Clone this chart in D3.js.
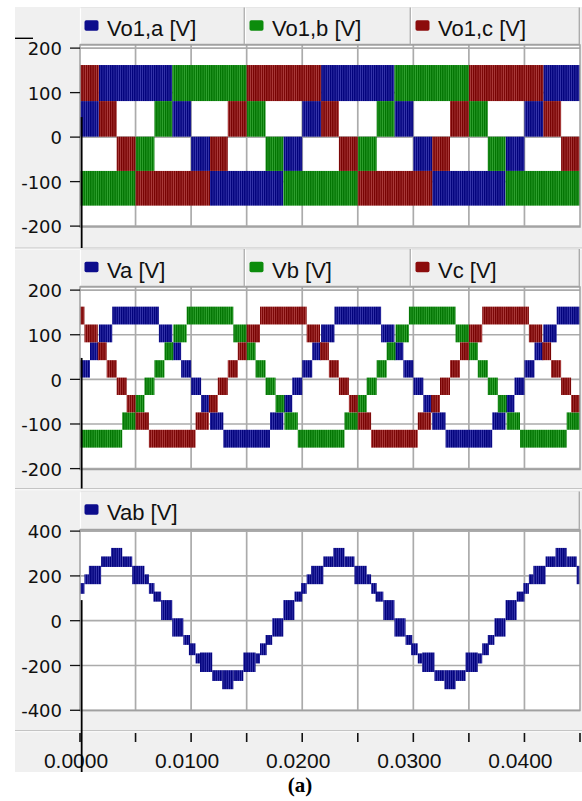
<!DOCTYPE html>
<html><head><meta charset="utf-8">
<script src="https://cdn.jsdelivr.net/npm/d3@7"></script>
<style>html,body{margin:0;padding:0;background:#fff;}svg{display:block}</style>
</head><body><svg id="c" width="582" height="801"></svg>
<script>
// ---------------- data ----------------
const timeTicks = [0,0.005,0.01,0.015,0.02,0.025,0.03,0.035,0.04,0.045];
const timeLabels = [0,0.01,0.02,0.03,0.04];
const phaseTicks = [-200,-100,0,100,200];
const lineTicks = [-400,-200,0,200,400];
const legendTop = ["Vo1,a [V]","Vo1,b [V]","Vo1,c [V]"];
const legendMid = ["Va [V]","Vb [V]","Vc [V]"];
const legendBot = ["Vab [V]"];
// each segment: [t start, t end, lower level, upper level] (PWM band)
const vo1a = [[0,0.0017,1,81],[0.0017,0.0083,81,162],[0.0083,0.0100,1,81],[0.0100,0.0117,-76,1],[0.0117,0.0183,-154,-76],[0.0183,0.0200,-76,1],[0.0200,0.0217,1,81],[0.0217,0.0283,81,162],[0.0283,0.0300,1,81],[0.0300,0.0317,-76,1],[0.0317,0.0383,-154,-76],[0.0383,0.0400,-76,1],[0.0400,0.0417,1,81],[0.0417,0.0450,81,162]];
const vo1b = [[0,0.0050,-154,-76],[0.0050,0.0067,-76,1],[0.0067,0.0083,1,81],[0.0083,0.0150,81,162],[0.0150,0.0167,1,81],[0.0167,0.0183,-76,1],[0.0183,0.0250,-154,-76],[0.0250,0.0267,-76,1],[0.0267,0.0283,1,81],[0.0283,0.0350,81,162],[0.0350,0.0367,1,81],[0.0367,0.0383,-76,1],[0.0383,0.0450,-154,-76]];
const vo1c = [[0,0.0017,81,162],[0.0017,0.0033,1,81],[0.0033,0.0050,-76,1],[0.0050,0.0117,-154,-76],[0.0117,0.0133,-76,1],[0.0133,0.0150,1,81],[0.0150,0.0217,81,162],[0.0217,0.0233,1,81],[0.0233,0.0250,-76,1],[0.0250,0.0317,-154,-76],[0.0317,0.0333,-76,1],[0.0333,0.0350,1,81],[0.0350,0.0417,81,162],[0.0417,0.0433,1,81],[0.0433,0.0450,-76,1]];
const va = [[0,0.0009,4,43],[0.0009,0.0017,43,83],[0.0017,0.0029,83,123],[0.0029,0.0071,123,163],[0.0071,0.0083,83,123],[0.0083,0.0091,43,83],[0.0091,0.0100,4,43],
 [0.0100,0.0109,-35,4],[0.0109,0.0117,-74,-35],[0.0117,0.0129,-113,-74],[0.0129,0.0171,-153,-113],[0.0171,0.0183,-113,-74],[0.0183,0.0191,-74,-35],[0.0191,0.0200,-35,4],
 [0.0200,0.0209,4,43],[0.0209,0.0217,43,83],[0.0217,0.0229,83,123],[0.0229,0.0271,123,163],[0.0271,0.0283,83,123],[0.0283,0.0291,43,83],[0.0291,0.0300,4,43],
 [0.0300,0.0309,-35,4],[0.0309,0.0317,-74,-35],[0.0317,0.0329,-113,-74],[0.0329,0.0371,-153,-113],[0.0371,0.0383,-113,-74],[0.0383,0.0391,-74,-35],[0.0391,0.0400,-35,4],
 [0.0400,0.0409,4,43],[0.0409,0.0417,43,83],[0.0417,0.0429,83,123],[0.0429,0.0450,123,163]];
const vb = [[0,0.0038,-153,-113],[0.0038,0.0050,-113,-74],[0.0050,0.0058,-74,-35],[0.0058,0.0067,-35,4],
 [0.0067,0.0076,4,43],[0.0076,0.0084,43,83],[0.0084,0.0096,83,123],[0.0096,0.0138,123,163],[0.0138,0.0150,83,123],[0.0150,0.0158,43,83],[0.0158,0.0167,4,43],
 [0.0167,0.0176,-35,4],[0.0176,0.0184,-74,-35],[0.0184,0.0196,-113,-74],[0.0196,0.0238,-153,-113],[0.0238,0.0250,-113,-74],[0.0250,0.0258,-74,-35],[0.0258,0.0267,-35,4],
 [0.0267,0.0276,4,43],[0.0276,0.0284,43,83],[0.0284,0.0296,83,123],[0.0296,0.0338,123,163],[0.0338,0.0350,83,123],[0.0350,0.0358,43,83],[0.0358,0.0367,4,43],
 [0.0367,0.0376,-35,4],[0.0376,0.0384,-74,-35],[0.0384,0.0396,-113,-74],[0.0396,0.0438,-153,-113],[0.0438,0.0450,-113,-74]];
const vc = [[0,0.0004,123,163],[0.0004,0.0016,83,123],[0.0016,0.0024,43,83],[0.0024,0.0033,4,43],
 [0.0033,0.0042,-35,4],[0.0042,0.0050,-74,-35],[0.0050,0.0062,-113,-74],[0.0062,0.0104,-153,-113],[0.0104,0.0116,-113,-74],[0.0116,0.0124,-74,-35],[0.0124,0.0133,-35,4],
 [0.0133,0.0142,4,43],[0.0142,0.0150,43,83],[0.0150,0.0162,83,123],[0.0162,0.0204,123,163],[0.0204,0.0216,83,123],[0.0216,0.0224,43,83],[0.0224,0.0233,4,43],
 [0.0233,0.0242,-35,4],[0.0242,0.0250,-74,-35],[0.0250,0.0262,-113,-74],[0.0262,0.0304,-153,-113],[0.0304,0.0316,-113,-74],[0.0316,0.0324,-74,-35],[0.0324,0.0333,-35,4],
 [0.0333,0.0342,4,43],[0.0342,0.0350,43,83],[0.0350,0.0362,83,123],[0.0362,0.0404,123,163],[0.0404,0.0416,83,123],[0.0416,0.0424,43,83],[0.0424,0.0433,4,43],
 [0.0433,0.0442,-35,4],[0.0442,0.0450,-74,-35]];
const vab = [[0,0.0004,120,168],[0.0004,0.0008,163,207],[0.0008,0.0019,163,245],[0.0019,0.0028,240,287],[0.0028,0.0038,240,325],[0.0038,0.0047,240,287],[0.0047,0.0058,163,245],[0.0058,0.0062,163,207],[0.0062,0.0067,120,168],[0.0066,0.0073,85,130],[0.0073,0.0083,3,92],
 [0.0083,0.0093,-71,11],[0.0093,0.0099,-108,-64],[0.0098,0.0104,-154,-101],[0.0104,0.0108,-191,-146],[0.0108,0.0119,-229,-142],[0.0119,0.0128,-269,-221],[0.0128,0.0138,-306,-221],[0.0138,0.0147,-269,-221],[0.0147,0.0158,-229,-142],[0.0158,0.0162,-191,-146],[0.0162,0.0168,-154,-101],[0.0167,0.0173,-108,-64],[0.0173,0.0183,-71,11],
 [0.0183,0.0193,3,92],[0.0193,0.0200,85,130],[0.0199,0.0204,120,168],[0.0204,0.0208,163,207],[0.0208,0.0219,163,245],[0.0219,0.0228,240,287],[0.0228,0.0238,240,325],[0.0238,0.0247,240,287],[0.0247,0.0258,163,245],[0.0258,0.0262,163,207],[0.0262,0.0267,120,168],[0.0266,0.0273,85,130],[0.0273,0.0283,3,92],
 [0.0283,0.0293,-71,11],[0.0293,0.0299,-108,-64],[0.0298,0.0304,-154,-101],[0.0304,0.0308,-191,-146],[0.0308,0.0319,-229,-142],[0.0319,0.0328,-269,-221],[0.0328,0.0338,-306,-221],[0.0338,0.0347,-269,-221],[0.0347,0.0358,-229,-142],[0.0358,0.0362,-191,-146],[0.0362,0.0368,-154,-101],[0.0367,0.0373,-108,-64],[0.0373,0.0383,-71,11],
 [0.0383,0.0393,3,92],[0.0393,0.0400,85,130],[0.0399,0.0404,120,168],[0.0404,0.0408,163,207],[0.0408,0.0419,163,245],[0.0419,0.0428,240,287],[0.0428,0.0438,240,325],[0.0438,0.0447,240,287],[0.0447,0.0450,163,245]];
const cursorTime = 0.00015;
const cursorFrom = [45, 48, 92];

// ---------------- drawing ----------------
const svg = d3.select("#c");
const pal = {
  blue:{dark:"#00007a", light:"#3a3ab0", sw:"#0c0c8c"},
  green:{dark:"#007300", light:"#33a433", sw:"#0c8c0c"},
  red:{dark:"#760000", light:"#ae4040", sw:"#8c0c0c"}
};
const defs = svg.append("defs");
Object.entries(pal).forEach(([k,c])=>{
  const p = defs.append("pattern").attr("id","pat-"+k).attr("patternUnits","userSpaceOnUse")
    .attr("width",2.2).attr("height",20);
  p.append("rect").attr("width",2.2).attr("height",20).attr("fill",c.light);
  p.append("rect").attr("width",1.3).attr("height",20).attr("fill",c.dark);
});

svg.append("rect").attr("width",582).attr("height",801).attr("fill","#fff");
svg.append("rect").attr("x",15).attr("y",7).attr("width",567).attr("height",765).attr("fill","#f0f0f0");

const x = d3.scaleLinear().domain([0,0.045]).range([80,580]);
const colors = ["blue","green","red"];

const panels = [
  {head:[7.5,45], plot:[45,227], dom:[-202,207], ticks:phaseTicks, series:[vo1a,vo1b,vo1c], legend:legendTop, cells:[80,245,411,580], bottom:248},
  {head:[249,287], plot:[287,469.5], dom:[-202,207], ticks:phaseTicks, series:[va,vb,vc], legend:legendMid, cells:[80,245,411,580], bottom:488.5},
  {head:[491.5,530], plot:[530,710.5], dom:[-401,405], ticks:lineTicks, series:[vab], legend:legendBot, cells:[80,580], bottom:730.5}
];

panels.forEach((P,pi)=>{
  const y = d3.scaleLinear().domain(P.dom).range([P.plot[1],P.plot[0]]);
  P.y = y;
  const g = svg.append("g");
  g.append("line").attr("x1",15).attr("x2",582).attr("y1",P.bottom).attr("y2",P.bottom)
    .attr("stroke","#c4c4c4").attr("stroke-width",1.2);
  g.append("line").attr("x1",15).attr("x2",582).attr("y1",P.bottom+1.2).attr("y2",P.bottom+1.2)
    .attr("stroke","#fbfbfb").attr("stroke-width",1);
  for(let i=0;i<P.cells.length-1;i++){
    const x0=P.cells[i], x1=P.cells[i+1], h0=P.head[0], h1=P.head[1];
    g.append("rect").attr("x",x0).attr("y",h0).attr("width",x1-x0).attr("height",h1-h0).attr("fill","#efefef");
    g.append("path").attr("d",`M${x0+0.5},${h1}V${h0+0.5}H${x1-1}`).attr("fill","none").attr("stroke","#ffffff").attr("stroke-width",1.2);
    g.append("path").attr("d",`M${x0+0.5},${h0+0.3}H${x1-0.5}`).attr("fill","none").attr("stroke","#d8d8d8").attr("stroke-width",0.8);
    g.append("path").attr("d",`M${x1-0.7},${h0}V${h1-0.7}H${x0}`).attr("fill","none").attr("stroke","#a8a8a8").attr("stroke-width",1.3);
    g.append("rect").attr("x",x0+4.5).attr("y",h0+12.8).attr("width",14).attr("height",10.5).attr("rx",1.8)
      .attr("fill",pal[colors[i]].sw);
    g.append("text").attr("x",x0+27).attr("y",h0+28.8).text(P.legend[i])
      .attr("font-family","'Liberation Sans',Arial,sans-serif").attr("font-size",22).attr("fill","#111");
  }
  g.append("rect").attr("x",80).attr("y",P.plot[0]).attr("width",500).attr("height",P.plot[1]-P.plot[0]).attr("fill","#fff");
  g.selectAll(null).data(timeTicks.slice(1,-1)).join("line")
    .attr("x1",d=>x(d)).attr("x2",d=>x(d)).attr("y1",P.plot[0]).attr("y2",P.plot[1])
    .attr("stroke","#ababab").attr("stroke-width",1.7);
  g.selectAll(null).data(P.ticks).join("line")
    .attr("x1",80).attr("x2",580).attr("y1",d=>y(d)).attr("y2",d=>y(d))
    .attr("stroke","#ababab").attr("stroke-width",1.7);
  P.series.forEach((s,si)=>{
    g.append("g").selectAll("rect").data(s).join("rect")
      .attr("x",d=>x(d[0])).attr("width",d=>Math.max(0,x(d[1])-x(d[0])))
      .attr("y",d=>y(d[3])).attr("height",d=>y(d[2])-y(d[3]))
      .attr("fill",`url(#pat-${colors[si]})`);
  });
  g.append("rect").attr("x",80).attr("y",P.plot[0]).attr("width",500).attr("height",P.plot[1]-P.plot[0])
    .attr("fill","none").attr("stroke","#a0a0a0").attr("stroke-width",1.5);
  g.selectAll(null).data(P.ticks).join("line")
    .attr("x1",70).attr("x2",80).attr("y1",d=>y(d)).attr("y2",d=>y(d))
    .attr("stroke","#111").attr("stroke-width",1.3);
  g.selectAll(null).data(P.ticks).join("text")
    .attr("x",62).attr("y",d=>y(d)+7.2).attr("text-anchor","end").text(d=>String(d))
    .attr("font-family","'DejaVu Sans',Verdana,sans-serif").attr("font-size",18).attr("fill","#111");
});

const ax = svg.append("g");
ax.selectAll(null).data(timeTicks).join("line")
  .attr("x1",d=>x(d)).attr("x2",d=>x(d)).attr("y1",733).attr("y2",742)
  .attr("stroke","#111").attr("stroke-width",1.6);
ax.selectAll(null).data(timeLabels).join("text")
  .attr("x",d=>x(d)-4).attr("y",767.5).attr("text-anchor","middle").text(d3.format(".4f"))
  .attr("font-family","'Liberation Sans',Arial,sans-serif").attr("font-size",21).attr("fill","#111");

const cx = x(cursorTime);
const curEnds = [panels[0].bottom, panels[1].bottom, 772];
panels.forEach((P,i)=>{
  svg.append("line").attr("x1",cx).attr("x2",cx).attr("y1",P.y(cursorFrom[i])).attr("y2",curEnds[i])
    .attr("stroke","#000").attr("stroke-width",1.8);
});
svg.append("line").attr("x1",15).attr("x2",33).attr("y1",38.3).attr("y2",38.3).attr("stroke","#000").attr("stroke-width",1.4);

svg.append("text").attr("x",300).attr("y",792).attr("text-anchor","middle").text("(a)")
  .attr("font-family","'Liberation Serif','Times New Roman',serif").attr("font-weight","bold").attr("font-size",21).attr("fill","#000");
</script></body></html>
